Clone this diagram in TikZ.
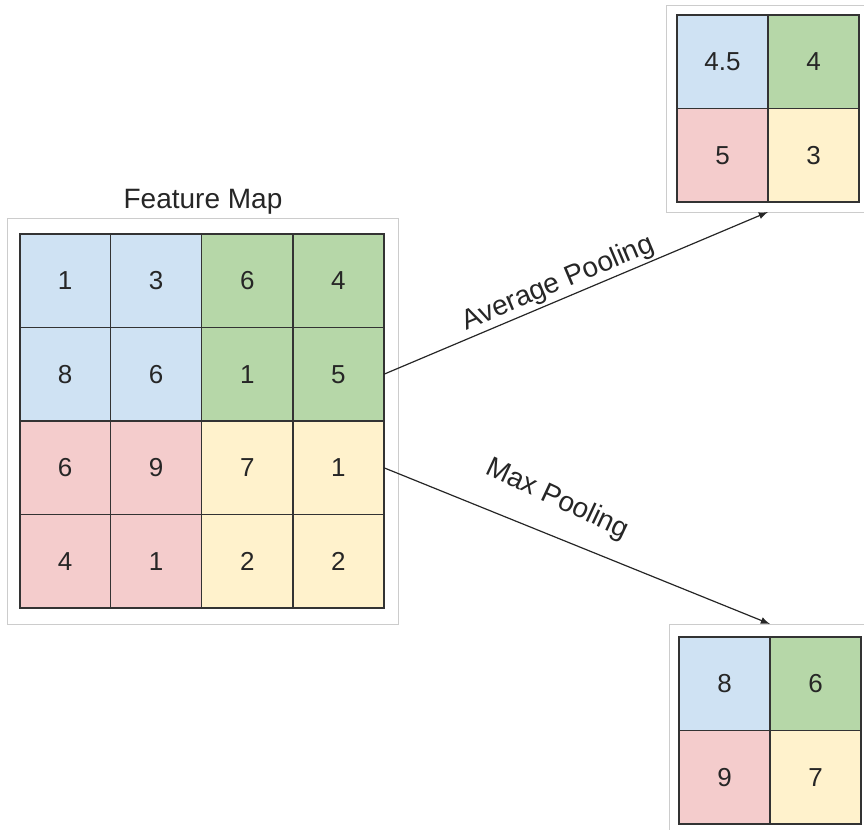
\documentclass[tikz,border=0pt]{standalone}
\usepackage{fontspec}
\setmainfont{Liberation Sans}
\definecolor{poolblue}{HTML}{CFE2F3}
\definecolor{poolgreen}{HTML}{B6D7A8}
\definecolor{poolred}{HTML}{F4CCCC}
\definecolor{poolyellow}{HTML}{FFF2CC}
\definecolor{cellline}{HTML}{333333}
\definecolor{frameline}{HTML}{CCCCCC}

\begin{document}
\begin{tikzpicture}[x=0.5pt,y=-0.5pt,
  cell/.style={draw=cellline, line width=0.6pt, minimum width=45.5pt, minimum height=46.75pt,
    inner sep=0pt, outer sep=0pt, text=black!85, font=\fontsize{13}{15}\selectfont},
  frame/.style={draw=frameline, line width=0.5pt, inner sep=0pt, outer sep=0pt},
  poollabel/.style={inner sep=1pt, text=black!85, font=\fontsize{14}{16}\selectfont},
  arrow/.style={-latex, line width=0.6pt, black!85}]
\useasboundingbox (0,0) rectangle (864,830);

% frames round the three maps
\node[frame, minimum width=195.5pt, minimum height=203pt] (fmbox) at (202.5,421) {};
\node[frame, minimum width=102pt, minimum height=103.5pt] (avgbox) at (768,108.5) {};
\node[frame, minimum width=101pt, minimum height=106.5pt] (maxbox) at (770,730.5) {};

\node[text=black!85, font=\fontsize{14}{16}\selectfont] (fmtitle) at (203,202) {Feature Map};

% feature map
\node[cell, fill=poolblue] (f11) at (65.1,280.75) {1};
\node[cell, fill=poolblue] (f12) at (156.2,280.75) {3};
\node[cell, fill=poolgreen] (f13) at (247.3,280.75) {6};
\node[cell, fill=poolgreen] (f14) at (338.4,280.75) {4};
\node[cell, fill=poolblue] (f21) at (65.1,374.25) {8};
\node[cell, fill=poolblue] (f22) at (156.2,374.25) {6};
\node[cell, fill=poolgreen] (f23) at (247.3,374.25) {1};
\node[cell, fill=poolgreen] (f24) at (338.4,374.25) {5};
\node[cell, fill=poolred] (f31) at (65.1,467.75) {6};
\node[cell, fill=poolred] (f32) at (156.2,467.75) {9};
\node[cell, fill=poolyellow] (f33) at (247.3,467.75) {7};
\node[cell, fill=poolyellow] (f34) at (338.4,467.75) {1};
\node[cell, fill=poolred] (f41) at (65.1,561.25) {4};
\node[cell, fill=poolred] (f42) at (156.2,561.25) {1};
\node[cell, fill=poolyellow] (f43) at (247.3,561.25) {2};
\node[cell, fill=poolyellow] (f44) at (338.4,561.25) {2};
\draw[cellline, line width=1pt] (f11.north west) rectangle (f44.south east);
\draw[cellline, line width=1.2pt] (f31.north west) -- (f34.north east);

% average pooling
\node[cell, fill=poolblue] (a11) at (722.5,61.75) {4.5};
\node[cell, fill=poolgreen] (a12) at (813.5,61.75) {4};
\node[cell, fill=poolred] (a21) at (722.5,155.25) {5};
\node[cell, fill=poolyellow] (a22) at (813.5,155.25) {3};
\draw[cellline, line width=1pt] (a11.north west) rectangle (a22.south east);

% max pooling
\node[cell, fill=poolblue] (m11) at (724.5,683.75) {8};
\node[cell, fill=poolgreen] (m12) at (815.5,683.75) {6};
\node[cell, fill=poolred] (m21) at (724.5,777.25) {9};
\node[cell, fill=poolyellow] (m22) at (815.5,777.25) {7};
\draw[cellline, line width=0.8pt] (m11.north west) rectangle (m22.south east);

\draw[arrow] (f24.east) -- node[poollabel, sloped, above, pos=0.47] {Average Pooling} (avgbox.south);
\draw[arrow] (f34.east) -- node[poollabel, sloped, rotate=-3, above=10pt, pos=0.41] {Max Pooling} (maxbox.north);
\end{tikzpicture}
\end{document}
